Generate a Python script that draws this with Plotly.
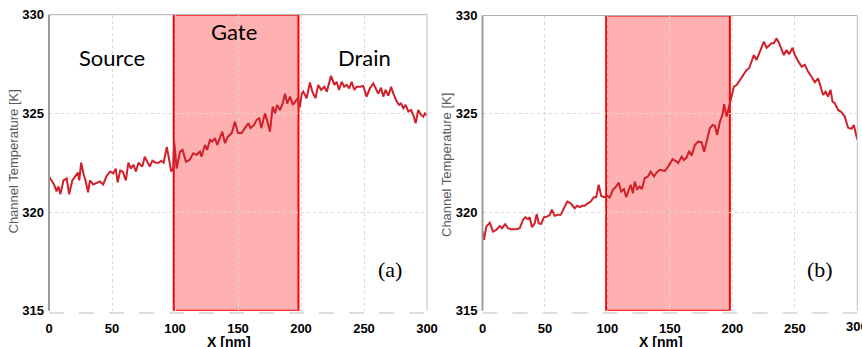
import plotly.graph_objects as go

# ---------------- data ----------------
x_a = [0, 2, 4, 6, 7.5, 9, 11.5, 14, 16, 18.5, 21, 23, 24, 25.5, 27.5, 29, 31, 32.5, 35, 38,
       40.5, 43, 45.5, 48.5, 51, 53, 54.5, 56.5, 58.5, 61, 63, 65, 67, 69, 71, 74, 76, 78, 80, 82,
       84.5, 87, 89, 91, 93.5, 95.5, 97, 98.5, 99.4, 101.3, 104, 106, 108.7, 111.5, 114.5, 117,
       119.8, 121, 123.8, 125.5, 127.8, 129.5, 131.7, 133.5, 135.7, 137.5, 139.7, 142, 145, 147.6,
       150, 152.9, 155.5, 158.2, 160, 162.7, 164.8, 166.9, 168.5, 171.4, 173, 175.4, 177.5, 179.4,
       181, 183.3, 185.5, 187.3, 189, 191.3, 193.5, 196, 197.5, 199, 200.6, 201.8, 204.5, 207.1,
       209, 211.5, 213.7, 216, 218.5, 220.5, 221.8, 223.8, 226.5, 228.3, 230.2, 232.3, 234.3,
       236.3, 238.2, 240.2, 242.3, 244.2, 246.8, 249.4, 252.1, 254.7, 257.4, 259.3, 261.3, 263.5,
       265.3, 267.2, 269.3, 271.5, 273.3, 276, 277.8, 279.4, 281.2, 283.1, 285.2, 287.3, 289.1,
       291, 293.1, 295.3, 297.1, 298.4, 300]
temp_a = [321.8, 321.6, 321.4, 321.05, 321.3, 320.9, 321.6, 321.7, 320.9, 321.6, 321.8, 322.0,
          321.6, 322.5, 321.9, 321.6, 321.0, 321.6, 321.4, 321.5, 321.55, 321.4, 321.8, 322.05,
          321.96, 322.2, 321.5, 322.1, 322.05, 321.6, 322.5, 322.2, 322.4, 322.05, 322.5, 322.3,
          322.8, 322.55, 322.3, 322.6, 322.5, 322.5, 322.6, 322.5, 323.3, 322.6, 322.05, 322.2,
          323.57, 322.2, 323.06, 323.15, 322.55, 322.64, 322.98, 322.9, 323.06, 322.8, 323.4,
          323.15, 323.65, 323.57, 323.74, 323.4, 323.82, 324.07, 323.49, 323.82, 324.0, 324.58,
          324.0, 324.0, 324.25, 324.5, 324.25, 324.41, 324.67, 324.75, 324.25, 325.0, 324.67,
          324.07, 325.34, 325.0, 325.43, 325.17, 325.51, 326.0, 325.5, 325.85, 325.43, 325.68,
          325.77, 325.3, 326.0, 326.1, 325.77, 326.56, 326.1, 325.77, 326.44, 326.19, 326.35,
          326.1, 326.44, 326.9, 326.44, 326.6, 326.19, 326.6, 326.35, 326.44, 326.27, 326.6,
          326.19, 326.35, 326.35, 326.39, 325.85, 326.27, 326.52, 326.3, 326.0, 326.3, 325.85,
          326.19, 325.9, 326.35, 326.0, 325.6, 325.43, 325.5, 325.26, 325.43, 325.09, 325.17,
          324.92, 324.5, 325.17, 324.92, 324.83, 325.0, 324.9]

x_b = [0, 1.2, 3, 5.8, 8.4, 11, 13.8, 15.6, 18.2, 20.4, 23, 27, 29.8, 32.4, 34.2, 36.4, 37.8,
       39.6, 41.8, 43.4, 45, 47, 49.2, 51.8, 53.8, 55.6, 57.8, 60.4, 62.6, 65.2, 67.8, 70.6,
       73.8, 75.8, 77.8, 79.6, 81.8, 83.8, 86.6, 89.2, 91, 93, 95, 97.2, 99.8, 101.8, 104.4,
       107, 109, 111, 113.2, 115, 117, 118.6, 120.4, 121.8, 123.8, 125.8, 127.6, 129.8, 132.4,
       134.6, 137.2, 139, 141.8, 146, 148.6, 152.2, 155.4, 156.6, 159.4, 161.2, 163.4, 165.4,
       167.4, 170, 172.6, 175.4, 177.4, 179.4, 182, 184.2, 186, 187.8, 190, 192.2, 193.4,
       195.4, 197.2, 199.4, 201.2, 203.4, 206, 208.6, 211.4, 213.4, 215.4, 217.2, 219.4, 221.4,
       223.4, 225.2, 227.4, 229.4, 231.4, 233.2, 235.4, 237.4, 239.4, 241.2, 243.4, 245.4,
       248.2, 250, 252.6, 255.4, 258, 260.6, 263.4, 266, 268.6, 270.6, 272.6, 274.6, 276.6,
       278.6, 280.2, 282, 284.6, 287.4, 290, 292.6, 295.4, 297.2, 299.4, 300]
temp_b = [319.02, 318.6, 319.27, 319.47, 319.02, 319.1, 319.3, 319.19, 319.4, 319.19, 319.14,
          319.14, 319.19, 319.61, 319.75, 319.65, 319.75, 319.24, 319.44, 319.92, 319.44,
          319.41, 319.75, 319.78, 319.87, 320.13, 319.82, 319.87, 319.87, 320.21, 320.55,
          320.46, 320.21, 320.33, 320.26, 320.33, 320.33, 320.43, 320.55, 320.77, 320.77,
          321.4, 320.84, 320.77, 320.84, 320.75, 321.14, 321.31, 321.51, 321.05, 321.18,
          320.77, 321.14, 321.4, 320.97, 321.56, 321.18, 321.31, 321.18, 321.73, 321.82,
          322.07, 321.82, 321.99, 322.16, 322.1, 322.32, 322.7, 322.58, 322.5, 322.83, 322.66,
          322.78, 323.12, 322.88, 323.42, 323.59, 323.56, 323.08, 323.67, 324.27, 324.44,
          324.4, 323.93, 324.6, 324.98, 325.49, 324.86, 325.37, 325.96, 326.38, 326.47,
          326.72, 327.01, 327.23, 327.32, 327.69, 327.99, 327.74, 328.08, 328.33, 328.67,
          328.36, 328.47, 328.59, 328.59, 328.84, 328.59, 328.3, 327.99, 328.25, 328.03,
          328.36, 327.99, 327.69, 327.4, 327.49, 327.15, 326.89, 326.61, 326.81, 326.38,
          325.96, 326.13, 325.88, 326.22, 325.62, 325.54, 325.2, 325.09, 324.86, 324.3,
          324.24, 324.44, 323.76, 323.7]

x_ticks = [0, 50, 100, 150, 200, 250, 300]
y_ticks = [315, 320, 325, 330]
gate_region = [99, 198]
region_labels = ["Source", "Gate", "Drain"]
region_label_x = [50, 147, 250]
region_label_y = [327.85, 329.15, 327.85]
panel_tags = ["(a)", "(b)"]

# ---------------- figure ----------------
W, H = 862, 347
LINE = "#d0202a"

fig = go.Figure()
fig.add_trace(go.Scatter(x=x_a, y=temp_a, mode="lines", line=dict(color=LINE, width=2),
                         xaxis="x", yaxis="y", showlegend=False, hoverinfo="skip"))
fig.add_trace(go.Scatter(x=x_b, y=temp_b, mode="lines", line=dict(color=LINE, width=2),
                         xaxis="x2", yaxis="y2", showlegend=False, hoverinfo="skip"))

def px_x(p):
    return p / W

def px_y(p):
    return (H - p) / H

dom_a = [px_x(49), px_x(427)]
dom_b = [px_x(482.5), px_x(857.3)]
ydom_a = [px_y(310.7), px_y(14.7)]
ydom_b = [px_y(310.7), px_y(15.5)]

tickfont = dict(family="Liberation Sans", size=13, color="black", weight="bold")
grid = dict(showgrid=True, gridcolor="#d9d9d9", griddash="dot", gridwidth=1)
xcommon = dict(range=[0, 300], tickvals=x_ticks, ticktext=[str(v) for v in x_ticks],
               zeroline=False, showline=False, tickfont=tickfont, ticks="", automargin=False,
               ticklabelstandoff=8, **grid)
ycommon = dict(range=[315, 330], tickvals=y_ticks, ticktext=[str(v) for v in y_ticks],
               zeroline=False, showline=False, tickfont=tickfont, ticks="", automargin=False,
               ticklabelstandoff=4, **grid)

fig.update_layout(
    width=W, height=H,
    margin=dict(l=0, r=0, t=0, b=0),
    paper_bgcolor="white", plot_bgcolor="white",
    xaxis=dict(domain=dom_a, anchor="y", **xcommon),
    yaxis=dict(domain=ydom_a, anchor="x", **ycommon),
    xaxis2=dict(domain=dom_b, anchor="y2", **xcommon),
    yaxis2=dict(domain=ydom_b, anchor="x2", **ycommon),
)

shapes = []
for xr, yr in (("x", "y"), ("x2", "y2")):
    # gate region
    shapes.append(dict(type="rect", xref=xr, yref=yr, x0=gate_region[0], x1=gate_region[1],
                       y0=315, y1=330, fillcolor="#ffb0b0", line=dict(color="#ff0000", width=2),
                       layer="below"))
    xd, yd = xr + " domain", yr + " domain"
    # frame
    shapes.append(dict(type="line", xref=xd, yref=yd, x0=0, x1=0, y0=0, y1=1,
                       line=dict(color="#9c9c9c", width=2), layer="above"))
    shapes.append(dict(type="line", xref=xd, yref=yd, x0=0, x1=1, y0=1, y1=1,
                       line=dict(color="#b0b0b0", width=1), layer="above"))
    shapes.append(dict(type="line", xref=xd, yref=yd, x0=1, x1=1, y0=0, y1=1,
                       line=dict(color="#bdbdbd", width=1), layer="above"))
    shapes.append(dict(type="line", xref=xd, yref=yd, x0=0, x1=1, y0=-0.008, y1=-0.008,
                       line=dict(color="#d4d4d4", width=1.5, dash="longdash"), layer="above"))
fig.update_layout(shapes=shapes)

ann = []
for i, (t, xv, yv) in enumerate(zip(region_labels, region_label_x, region_label_y)):
    ann.append(dict(text=t, x=xv, y=yv, xref="x", yref="y", showarrow=False,
                    font=dict(family="Lato", size=22, color="black"),
                    xanchor="center", yanchor="middle"))
for t, xr, yr, xv in (("(a)", "x", "y", 270.5), ("(b)", "x2", "y2", 270.5)):
    ann.append(dict(text=t, x=xv, y=317.1, xref=xr, yref=yr, showarrow=False,
                    font=dict(family="Liberation Serif", size=22, color="black"),
                    xanchor="center", yanchor="middle"))
# last x tick label of panel (b), which runs past the page edge as in the original
ann.append(dict(text=str(x_ticks[-1]), x=x_ticks[-1], y=px_y(326.5), xref="x2", yref="paper",
                showarrow=False, xanchor="center", yanchor="middle", font=tickfont))
# axis titles
for xv in (px_x(229), px_x(661)):
    ann.append(dict(text="X [nm]", x=xv, y=px_y(342), xref="paper", yref="paper",
                    showarrow=False, xanchor="center", yanchor="middle",
                    font=dict(family="Liberation Sans", size=14, color="black", weight="bold")))
for xv, yv in ((px_x(12.5), px_y(162)), (px_x(446), px_y(165))):
    ann.append(dict(text="Channel Temperature [K]", x=xv, y=yv, xref="paper", yref="paper",
                    showarrow=False, xanchor="center", yanchor="middle", textangle=-90,
                    font=dict(family="Liberation Sans", size=13, color="#5a5a5a")))
fig.update_layout(annotations=ann)

fig.write_html("out.html", config={"displayModeBar": False},
               post_script="document.body.style.margin='0';document.body.style.overflow='hidden';")
